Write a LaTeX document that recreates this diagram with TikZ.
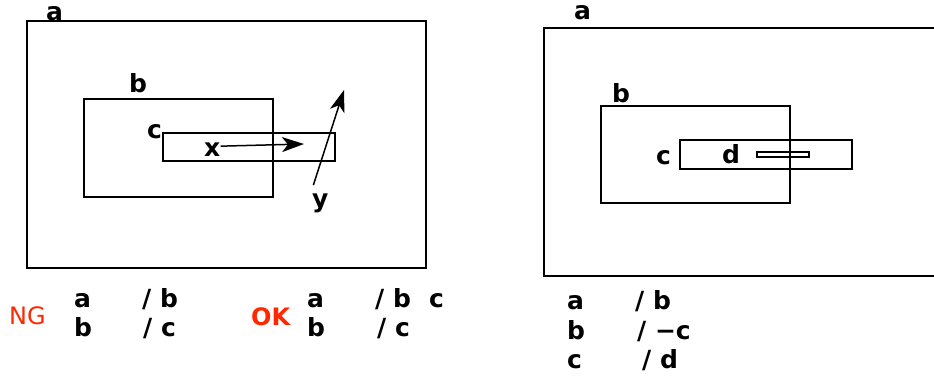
\documentclass[tikz,border=0pt]{standalone}
\usepackage{fontspec}
\setmainfont{DejaVu Sans}
\usetikzlibrary{arrows.meta}
\definecolor{ngred}{RGB}{255,40,0}

\begin{document}
\begin{tikzpicture}[x=1pt, y=-1pt,
  box/.style={draw, line width=1.5pt},
  lbl/.style={anchor=base west, inner sep=0pt, font=\fontsize{25}{25}\selectfont\bfseries},
  tag/.style={anchor=base west, inner sep=0pt, text=ngred, font=\fontsize{24}{24}\selectfont},
  arr/.style={line width=1.5pt, -{Stealth[length=22pt, width=15pt, inset=6pt]}}
]
\clip (0,0) rectangle (934,381);
% left picture: boxes a, b, c
\draw[box] (27,21) rectangle (426,268);
\draw[box] (84,99) rectangle (273,197);
\draw[box] (163,133) rectangle (335,161);
\node[lbl] (la) at (46,20) {a};
\node[lbl] (lb) at (129,92) {b};
\node[lbl] (lc) at (147,138) {c};
% moves x and y
\node[lbl] (x) at (204,156) {x};
\node[lbl] (y) at (312,207) {y};
\coordinate (xend) at (304,144);
\coordinate (yend) at (344,90);
\draw[arr] ([yshift=3pt]x.east) -- (xend);
\draw[arr] ([shift={(-7pt,8pt)}]y.north) -- (yend);
% right picture: boxes a, b, c, d
\draw[box] (544,28) rectangle (945,276);
\draw[box] (601,106) rectangle (790,203);
\draw[box] (680,140) rectangle (852,169);
\draw[box] (757,152) rectangle (809,157);
\node[lbl] (ra) at (574,19) {a};
\node[lbl] (rb) at (612,102) {b};
\node[lbl] (rc) at (656,164) {c};
\node[lbl] (rd) at (722,163) {d};
% NG rules
\node[tag] (ng) at (9,324) {NG};
\node[lbl] (ng1) at (74,307) {a};
\node[lbl] (ng1r) at (142,307) {/ b};
\node[lbl] (ng2) at (74,336) {b};
\node[lbl] (ng2r) at (143,336) {/ c};
% OK rules
\node[tag, font=\fontsize{24}{24}\selectfont\bfseries] (ok) at (251,325) {OK};
\node[lbl] (ok1) at (307,307) {a};
\node[lbl] (ok1r) at (375,307) {/ b};
\node[lbl] (ok1c) at (429,307) {c};
\node[lbl] (ok2) at (307,336) {b};
\node[lbl] (ok2r) at (377,336) {/ c};
% rules for the right picture
\node[lbl] (r1) at (567,309) {a};
\node[lbl] (r1r) at (635,309) {/ b};
\node[lbl] (r2) at (567,339) {b};
\node[lbl] (r2r) at (637,339) {/ −c};
\node[lbl] (r3) at (567,368) {c};
\node[lbl] (r3r) at (642,368) {/ d};
\end{tikzpicture}
\end{document}
